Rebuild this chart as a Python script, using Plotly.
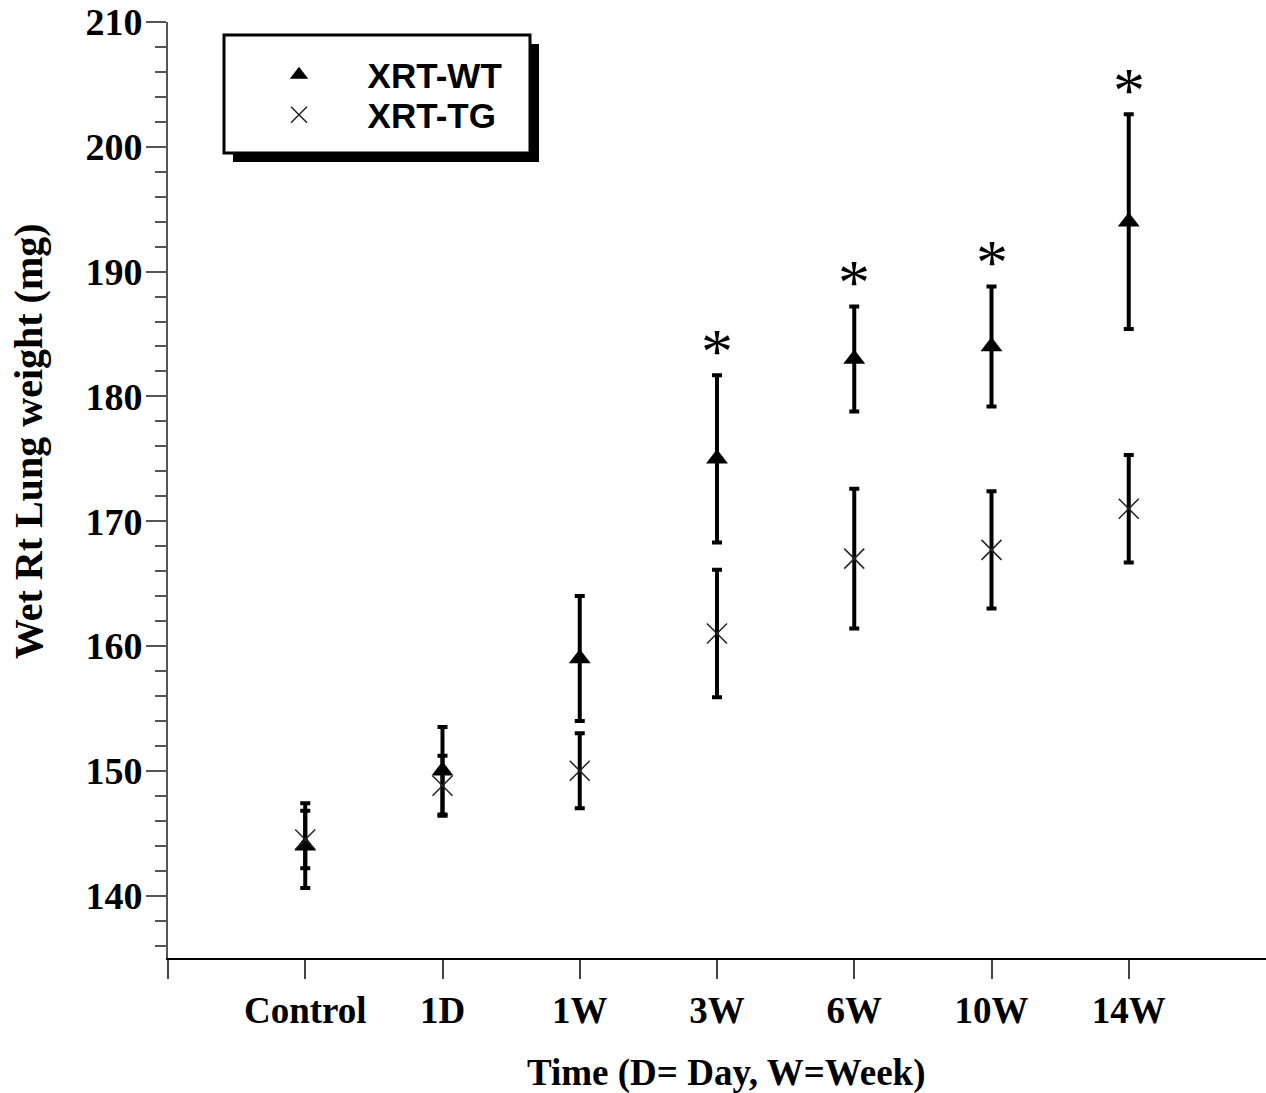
import plotly.graph_objects as go

categories = ["Control", "1D", "1W", "3W", "6W", "10W", "14W"]
wt_mean = [144.0, 150.0, 159.0, 175.0, 183.0, 184.0, 194.0]
wt_err = [3.4, 3.5, 5.0, 6.7, 4.2, 4.8, 8.6]
tg_mean = [144.5, 148.8, 150.0, 161.0, 167.0, 167.7, 171.0]
tg_err = [2.3, 2.4, 3.0, 5.1, 5.6, 4.7, 4.3]
significant = [False, False, False, True, True, True, True]

pos = [i + 1 for i in range(len(categories))]

SERIF = "Liberation Serif"
SANS = "Liberation Sans"

W, H = 1266, 1093
L, R, T, B = 168, 0, 22, 135
pw, ph = W - L - R, H - T - B


def px_x(x):
    return (x - L) / pw


def px_y(y):
    return (H - B - y) / ph


NB = "\u00a0" * 5

fig = go.Figure()
fig.add_trace(go.Scatter(
    x=pos, y=wt_mean, mode="markers", name=NB + "XRT-WT", legend="legend",
    marker=dict(symbol="triangle-up", size=19, color="black"),
    error_y=dict(type="data", array=wt_err, visible=True, color="black", thickness=4, width=5),
))
fig.add_trace(go.Scatter(
    x=pos, y=tg_mean, mode="markers", name=NB + "XRT-TG", legend="legend2",
    marker=dict(symbol="x-thin", size=20, color="#222", line=dict(width=1.5, color="#222")),
    error_y=dict(type="data", array=tg_err, visible=True, color="black", thickness=4, width=5),
))

annotations = []
for p, m, e, s in zip(pos, wt_mean, wt_err, significant):
    if s:
        annotations.append(dict(x=p, y=m + e, xref="x", yref="y", text="*", showarrow=False,
                                xanchor="center", yanchor="middle", yshift=24,
                                font=dict(family=SERIF, size=64, color="black")))

annotations.append(dict(x=px_x(726), y=px_y(1073), xref="paper", yref="paper",
                        xanchor="center", yanchor="middle",
                        text="<b>Time (D= Day, W=Week)</b>", showarrow=False,
                        font=dict(family=SERIF, size=37, color="black")))
annotations.append(dict(x=px_x(29), y=px_y(441), xref="paper", yref="paper",
                        xanchor="center", yanchor="middle",
                        text="<b>Wet Rt Lung weight (mg)</b>", textangle=-90, showarrow=False,
                        font=dict(family=SERIF, size=40, color="black")))

shapes = [
    dict(type="rect", xref="paper", yref="paper", x0=px_x(233), x1=px_x(539), y0=px_y(162), y1=px_y(44),
         fillcolor="black", line=dict(width=0), layer="above"),
    dict(type="rect", xref="paper", yref="paper", x0=px_x(224), x1=px_x(530), y0=px_y(153), y1=px_y(35),
         fillcolor="white", line=dict(width=3, color="black"), layer="above"),
]

legend_font = dict(family=SANS, size=35, color="black", weight="bold")

fig.update_layout(
    width=W, height=H,
    margin=dict(l=L, r=R, t=T, b=B),
    plot_bgcolor="white", paper_bgcolor="white",
    showlegend=True,
    legend=dict(x=px_x(279), y=px_y(75), xanchor="left", yanchor="middle",
                bgcolor="rgba(0,0,0,0)", borderwidth=0, font=legend_font),
    legend2=dict(x=px_x(279), y=px_y(115), xanchor="left", yanchor="middle",
                 bgcolor="rgba(0,0,0,0)", borderwidth=0, font=legend_font),
    annotations=annotations,
    shapes=shapes,
    xaxis=dict(range=[0, 8], tickvals=[0] + pos, ticktext=[""] + [f"<b>{c}</b>" for c in categories],
               ticks="outside", ticklen=19, tickwidth=2, tickcolor="#444",
               showline=True, linecolor="black", linewidth=2, showgrid=False, zeroline=False,
               tickfont=dict(family=SERIF, size=37, color="black")),
    yaxis=dict(range=[135, 210], tick0=140, dtick=10, ticks="outside", ticklen=20, tickwidth=2,
               tickcolor="#555", showline=True, linecolor="#555", linewidth=2, showgrid=False,
               zeroline=False, ticklabelstandoff=-4,
               minor=dict(dtick=2, tick0=140, ticks="outside", ticklen=11, tickwidth=2, tickcolor="#555"),
               tickfont=dict(family=SERIF, size=38, color="black", weight="bold")),
)

fig.write_html("out.html")
